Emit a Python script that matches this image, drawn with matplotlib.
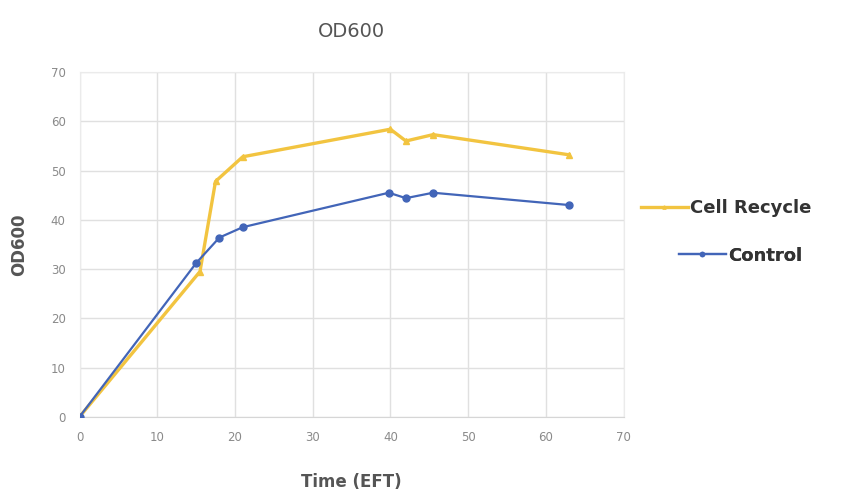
import matplotlib.pyplot as plt

# OD600 readings over elapsed fermentation time
time_recycle = [0, 15.5, 17.5, 21, 40, 42, 45.5, 63]
od_recycle = [0, 29.5, 47.8, 52.8, 58.4, 56.0, 57.3, 53.2]

time_control = [0, 15, 18, 21, 39.8, 42, 45.5, 63]
od_control = [0, 31.2, 36.4, 38.5, 45.5, 44.4, 45.5, 43.0]

x_ticks = [0, 10, 20, 30, 40, 50, 60, 70]
y_ticks = [0, 10, 20, 30, 40, 50, 60, 70]

yellow = '#F2C440'
blue = '#4265B8'

fig = plt.figure(figsize=(8.46, 5.04), dpi=100)
ax = fig.add_axes([0.094, 0.173, 0.643, 0.684])

line_r, = ax.plot(time_recycle, od_recycle, color=yellow, linewidth=2.4,
                  marker='^', markersize=4, label='Cell Recycle', zorder=3)
line_c, = ax.plot(time_control, od_control, color=blue, linewidth=1.6,
                  marker='o', markersize=5, label='Control', zorder=4)

ax.set_xlim(0, 70)
ax.set_ylim(0, 70)
ax.set_xticks(x_ticks)
ax.set_yticks(y_ticks)
ax.tick_params(length=0, labelsize=8.5, colors='#8a8a8a', pad=10)
ax.grid(True, color='#e0e0e0', linewidth=1)
ax.set_axisbelow(True)
for side in ['top', 'right', 'left']:
    ax.spines[side].set_color('#ebebeb')
ax.spines['bottom'].set_color('#d6d6d6')

ax.set_title('OD600', fontsize=14, color='#555555', pad=25)
ax.set_xlabel('Time (EFT)', fontsize=12, fontweight='bold',
              color='#555555', labelpad=21)
ax.set_ylabel('OD600', fontsize=12, fontweight='bold',
              color='#555555', labelpad=16)

# each legend entry centred on its own row, like a spreadsheet legend
for handle, xpos, ypos in [(line_r, 1.189, 0.606), (line_c, 1.215, 0.467)]:
    leg = ax.legend(handles=[handle], loc='center',
                    bbox_to_anchor=(xpos, ypos), frameon=False,
                    handlelength=2.6, handletextpad=0.15, markerscale=0.6,
                    prop={'weight': 'bold', 'size': 13})
    leg.get_texts()[0].set_color('#333333')
    ax.add_artist(leg)

fig.savefig('out.png', dpi=100, facecolor='white')
